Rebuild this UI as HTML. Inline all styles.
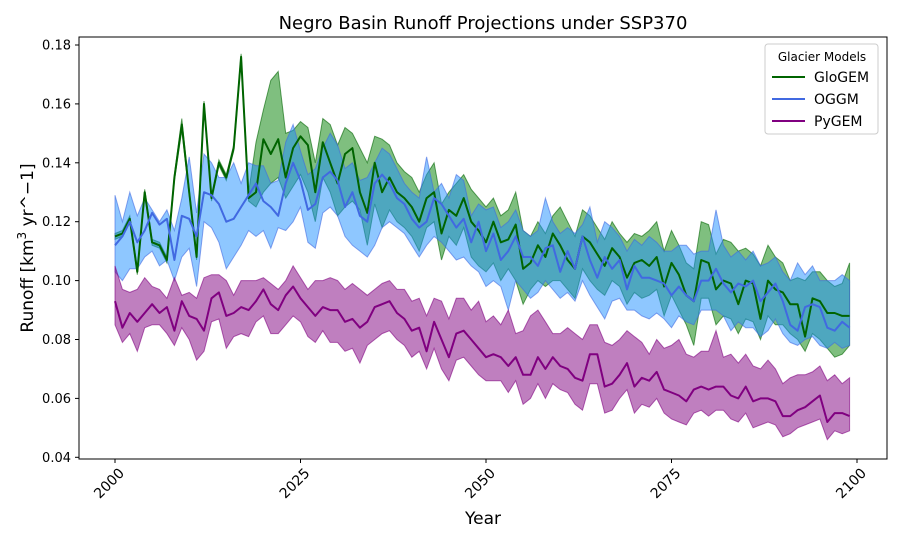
<!DOCTYPE html>
<html><head><meta charset="utf-8"><style>
body{margin:0;background:#fff;font-family:"Liberation Sans","DejaVu Sans",sans-serif}
svg text{font-family:"DejaVu Sans","Liberation Sans",sans-serif}
</style></head><body>
<svg id="chart" width="900" height="540" xmlns="http://www.w3.org/2000/svg">
<rect width="900" height="540" fill="#fff"/>
<text x="483" y="29" font-size="18" text-anchor="middle">Negro Basin Runoff Projections under SSP370</text>
<text transform="translate(33,248) rotate(-90)" font-size="17" text-anchor="middle">Runoff [km<tspan font-size="12" dy="-7">3</tspan><tspan dy="7"> yr^−1]</tspan></text>
<text x="483" y="524" font-size="17" text-anchor="middle">Year</text>
<g id="plot"></g>
<rect x="79" y="37" width="808" height="422" fill="none" stroke="#000" stroke-width="1"/>
<g>
<rect x="765" y="44" width="113" height="90" rx="3" fill="#fff" fill-opacity="0.85" stroke="#ccc"/>
<text x="822" y="61" font-size="12" text-anchor="middle">Glacier Models</text>
<line x1="772" y1="77" x2="805" y2="77" stroke="#006400" stroke-width="2"/>
<text x="814" y="82" font-size="14">GloGEM</text>
<line x1="772" y1="99" x2="805" y2="99" stroke="#4169e1" stroke-width="2"/>
<text x="814" y="104" font-size="14">OGGM</text>
<line x1="772" y1="121" x2="805" y2="121" stroke="#800080" stroke-width="2"/>
<text x="814" y="126" font-size="14">PyGEM</text>
</g>
</svg>
<script>
const startYear = 2000;
const yTicks = [0.04,0.06,0.08,0.10,0.12,0.14,0.16,0.18];
const xTicks = [2000,2025,2050,2075,2100];
const glogemMean = [0.115,0.116,0.121,0.103,0.130,0.113,0.112,0.107,0.135,0.153,0.130,0.108,0.160,0.128,0.140,0.135,0.145,0.176,0.128,0.130,
0.148,0.143,0.148,0.135,0.145,0.149,0.146,0.130,0.147,0.140,0.133,0.143,0.145,0.130,0.123,0.140,0.130,0.135,0.130,0.128,
0.125,0.120,0.128,0.130,0.116,0.124,0.122,0.128,0.120,0.117,0.113,0.120,0.113,0.114,0.119,0.104,0.106,0.112,0.108,0.116,
0.112,0.107,0.104,0.115,0.113,0.109,0.105,0.111,0.108,0.101,0.106,0.107,0.105,0.108,0.098,0.106,0.102,0.095,0.093,0.107,
0.106,0.097,0.100,0.099,0.092,0.100,0.099,0.087,0.100,0.097,0.096,0.092,0.092,0.081,0.094,0.093,0.089,0.089,0.088,0.088];
const glogemUpper = [0.116,0.117,0.122,0.104,0.131,0.114,0.113,0.108,0.136,0.155,0.131,0.109,0.161,0.129,0.141,0.136,0.146,0.177,0.130,0.147,
0.158,0.168,0.171,0.150,0.151,0.154,0.152,0.140,0.155,0.153,0.146,0.152,0.150,0.145,0.140,0.149,0.148,0.146,0.140,0.137,
0.135,0.130,0.136,0.140,0.126,0.130,0.133,0.136,0.131,0.128,0.125,0.128,0.122,0.124,0.130,0.117,0.115,0.120,0.116,0.122,
0.125,0.120,0.115,0.124,0.122,0.118,0.114,0.120,0.116,0.113,0.116,0.115,0.117,0.120,0.110,0.117,0.112,0.106,0.104,0.120,
0.119,0.109,0.114,0.113,0.110,0.111,0.109,0.105,0.112,0.108,0.106,0.100,0.101,0.100,0.103,0.103,0.100,0.098,0.099,0.106];
const glogemLower = [0.114,0.115,0.120,0.102,0.129,0.112,0.111,0.106,0.134,0.151,0.129,0.107,0.159,0.127,0.139,0.134,0.144,0.175,0.127,0.125,
0.130,0.133,0.135,0.128,0.132,0.136,0.130,0.120,0.135,0.130,0.122,0.125,0.127,0.124,0.112,0.126,0.118,0.124,0.120,0.118,
0.115,0.110,0.118,0.120,0.107,0.115,0.112,0.118,0.108,0.105,0.103,0.106,0.100,0.104,0.100,0.092,0.097,0.100,0.098,0.100,
0.100,0.097,0.094,0.104,0.100,0.097,0.095,0.100,0.098,0.092,0.096,0.094,0.095,0.097,0.088,0.095,0.090,0.085,0.078,0.094,
0.094,0.085,0.088,0.087,0.082,0.087,0.086,0.080,0.088,0.085,0.085,0.082,0.080,0.076,0.082,0.080,0.077,0.074,0.075,0.078];
const oggmMean = [0.112,0.115,0.120,0.113,0.117,0.123,0.119,0.121,0.107,0.122,0.121,0.115,0.130,0.129,0.126,0.120,0.121,0.125,0.129,0.133,
0.127,0.125,0.122,0.133,0.140,0.134,0.124,0.126,0.135,0.137,0.134,0.125,0.130,0.122,0.120,0.133,0.136,0.133,0.128,0.126,
0.121,0.118,0.120,0.128,0.126,0.122,0.118,0.121,0.113,0.120,0.110,0.116,0.107,0.110,0.115,0.108,0.108,0.105,0.111,0.112,
0.103,0.110,0.104,0.115,0.107,0.101,0.108,0.104,0.107,0.097,0.105,0.101,0.101,0.100,0.099,0.095,0.098,0.095,0.093,0.100,
0.100,0.104,0.099,0.096,0.099,0.098,0.100,0.093,0.096,0.099,0.093,0.085,0.083,0.091,0.092,0.091,0.084,0.083,0.086,0.084];
const oggmUpper = [0.129,0.120,0.130,0.122,0.128,0.124,0.120,0.124,0.117,0.128,0.142,0.123,0.143,0.140,0.135,0.135,0.140,0.133,0.140,0.139,
0.139,0.133,0.134,0.147,0.153,0.144,0.136,0.138,0.145,0.150,0.146,0.138,0.140,0.134,0.135,0.140,0.145,0.143,0.138,0.133,
0.130,0.128,0.142,0.130,0.133,0.128,0.136,0.134,0.122,0.126,0.124,0.125,0.118,0.120,0.124,0.117,0.115,0.117,0.128,0.120,
0.116,0.118,0.116,0.119,0.125,0.113,0.120,0.118,0.115,0.110,0.114,0.112,0.115,0.113,0.110,0.110,0.112,0.112,0.109,0.110,
0.110,0.124,0.112,0.108,0.110,0.107,0.110,0.105,0.106,0.108,0.103,0.100,0.106,0.102,0.105,0.100,0.100,0.100,0.102,0.100];
const oggmLower = [0.103,0.100,0.104,0.104,0.108,0.110,0.105,0.107,0.100,0.108,0.111,0.098,0.120,0.118,0.113,0.104,0.108,0.112,0.117,0.115,
0.117,0.111,0.118,0.117,0.120,0.125,0.113,0.111,0.123,0.125,0.122,0.115,0.112,0.110,0.108,0.112,0.118,0.120,0.118,0.116,
0.112,0.108,0.112,0.115,0.113,0.110,0.107,0.108,0.105,0.103,0.098,0.100,0.098,0.090,0.100,0.097,0.094,0.096,0.100,0.097,
0.094,0.096,0.093,0.100,0.095,0.091,0.087,0.093,0.094,0.090,0.090,0.088,0.087,0.089,0.087,0.084,0.088,0.086,0.085,0.090,
0.090,0.090,0.088,0.083,0.086,0.084,0.084,0.081,0.083,0.087,0.082,0.079,0.078,0.080,0.081,0.078,0.077,0.079,0.077,0.078];
const pygemMean = [0.093,0.084,0.089,0.086,0.089,0.092,0.089,0.091,0.083,0.093,0.088,0.087,0.083,0.094,0.096,0.088,0.089,0.091,0.090,0.093,
0.097,0.092,0.090,0.095,0.098,0.094,0.091,0.088,0.091,0.090,0.090,0.086,0.087,0.084,0.086,0.091,0.092,0.093,0.089,0.087,
0.083,0.084,0.076,0.086,0.080,0.074,0.082,0.083,0.080,0.077,0.074,0.075,0.074,0.071,0.074,0.068,0.068,0.074,0.070,0.074,
0.071,0.070,0.067,0.066,0.075,0.075,0.064,0.065,0.068,0.072,0.064,0.067,0.066,0.069,0.063,0.062,0.061,0.059,0.063,0.064,
0.063,0.064,0.064,0.061,0.060,0.064,0.059,0.060,0.060,0.059,0.054,0.054,0.056,0.057,0.059,0.061,0.052,0.055,0.055,0.054];
const pygemUpper = [0.105,0.097,0.096,0.097,0.101,0.098,0.097,0.094,0.101,0.095,0.096,0.094,0.101,0.102,0.102,0.100,0.095,0.100,0.100,0.100,
0.101,0.099,0.097,0.100,0.105,0.101,0.097,0.100,0.100,0.101,0.100,0.097,0.099,0.097,0.095,0.097,0.099,0.100,0.097,0.097,
0.093,0.094,0.088,0.094,0.093,0.087,0.094,0.094,0.090,0.093,0.086,0.088,0.085,0.090,0.082,0.083,0.088,0.090,0.086,0.082,
0.082,0.084,0.082,0.080,0.085,0.085,0.079,0.078,0.080,0.083,0.081,0.079,0.075,0.080,0.077,0.078,0.080,0.075,0.074,0.076,
0.076,0.083,0.074,0.075,0.072,0.075,0.071,0.070,0.073,0.070,0.065,0.067,0.068,0.068,0.069,0.071,0.066,0.068,0.065,0.067];
const pygemLower = [0.085,0.079,0.082,0.076,0.084,0.085,0.085,0.082,0.078,0.084,0.080,0.073,0.076,0.086,0.087,0.077,0.081,0.082,0.081,0.086,
0.088,0.082,0.082,0.085,0.088,0.086,0.081,0.079,0.083,0.079,0.079,0.076,0.077,0.072,0.078,0.080,0.082,0.083,0.080,0.078,
0.074,0.076,0.070,0.077,0.070,0.066,0.073,0.074,0.071,0.068,0.066,0.066,0.066,0.062,0.066,0.058,0.060,0.065,0.060,0.065,
0.063,0.062,0.058,0.056,0.065,0.065,0.055,0.056,0.060,0.063,0.055,0.058,0.057,0.060,0.055,0.053,0.052,0.051,0.055,0.056,
0.054,0.056,0.056,0.053,0.052,0.055,0.050,0.051,0.052,0.051,0.047,0.048,0.050,0.051,0.052,0.053,0.046,0.049,0.048,0.049];

const NS='http://www.w3.org/2000/svg';
function xs(yr){return 115+(yr-2000)*7.42;}
function ys(v){return 45+(0.18-v)/0.02*58.9;}
const plot=document.getElementById('plot');
function mk(tag,attrs){const e=document.createElementNS(NS,tag);for(const k in attrs)e.setAttribute(k,attrs[k]);return e;}

yTicks.forEach(t=>{
  const g=mk('g',{});
  
  
  g.appendChild(mk('line',{x1:75,x2:79,y1:ys(t),y2:ys(t),stroke:'#000'}));
  const tx=mk('text',{x:71,y:ys(t)+4.5,'font-size':13,'text-anchor':'end'});tx.textContent=t.toFixed(2);
  g.appendChild(tx);plot.appendChild(g);
});
xTicks.forEach(t=>{
  const g=mk('g',{});
  
  
  g.appendChild(mk('line',{x1:xs(t),x2:xs(t),y1:459,y2:463,stroke:'#000'}));
  const tx=mk('text',{transform:`translate(${xs(t)+10},${474}) rotate(-45)`,'font-size':14,'text-anchor':'end'});tx.textContent=t;
  g.appendChild(tx);plot.appendChild(g);
});

function band(lo,hi,fill,stroke,name){
  let d='M';
  hi.forEach((v,i)=>{d+=xs(startYear+i).toFixed(1)+','+ys(v).toFixed(1)+' L';});
  for(let i=lo.length-1;i>=0;i--){d+=xs(startYear+i).toFixed(1)+','+ys(lo[i]).toFixed(1)+(i?' L':' Z');}
  const p=mk('path',{d:d,fill:fill,'fill-opacity':0.5,stroke:stroke,'stroke-opacity':0.6,'stroke-width':1});
  
  
  plot.appendChild(p);
}
function line(arr,color,name){
  const pts=arr.map((v,i)=>xs(startYear+i).toFixed(1)+','+ys(v).toFixed(1)).join(' ');
  const p=mk('polyline',{points:pts,fill:'none',stroke:color,'stroke-width':2,'stroke-linejoin':'round'});
  
  
  plot.appendChild(p);
}
band(glogemLower,glogemUpper,'#008000','#006400','glogem-band');
band(oggmLower,oggmUpper,'#1e90ff','#4169e1','oggm-band');
band(pygemLower,pygemUpper,'#800080','#800080','pygem-band');
line(glogemMean,'#006400','glogem-line');
line(oggmMean,'#4169e1','oggm-line');
line(pygemMean,'#800080','pygem-line');
</script>
</body></html>
